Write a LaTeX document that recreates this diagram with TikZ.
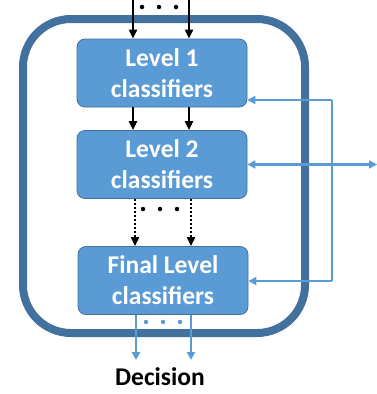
\documentclass[tikz,border=0pt]{standalone}
\usepackage{fontspec}
\setmainfont{Carlito}
\usetikzlibrary{arrows.meta}
\definecolor{boxblue}{HTML}{5B9BD5}
\definecolor{edgeblue}{HTML}{41719C}
\tikzset{
  classbox/.style={draw=edgeblue, fill=boxblue, rounded corners=8pt, line width=0.8pt,
    minimum width=170pt, minimum height=68pt, text=white, align=center,
    font=\fontsize{25.5}{31}\selectfont\bfseries},
  blackarrow/.style={line width=2pt, -{Triangle[length=9pt,width=8pt]}},
  bluearrow/.style={draw=boxblue, line width=2.2pt, -{Triangle[length=8pt,width=8pt]}},
  blueline/.style={draw=boxblue, line width=2.2pt},
  dot/.style={circle, fill, inner sep=0pt, minimum size=4.5pt}
}
\begin{document}
\begin{tikzpicture}[x=1pt, y=-1pt]
    \useasboundingbox (0,0) rectangle (377,394);

    % Outer frame
    % ---------------------
    \draw[edgeblue, line width=8pt, rounded corners=48pt] (23,19) rectangle (305,333);

    % Classifier levels
    % ---------------------
    \node[classbox] (lvl1) at (162,73) {Level 1\\classifiers};
    \node[classbox] (lvl2) at (162,164.5) {Level 2\\classifiers};
    \node[classbox] (lvlf) at (163,280.5) {Final Level\\classifiers};
    \node[font=\fontsize{25.5}{31}\selectfont\bfseries] (dec) at (160,377) {Decision};

    % Inputs
    % ---------------------
    \coordinate (inA) at (133,0);
    \coordinate (inB) at (189,0);
    \draw[blackarrow] (inA) -- (inA |- lvl1.north);
    \draw[blackarrow] (inB) -- (inB |- lvl1.north);
    \node[dot] (ta) at (142,7) {};
    \node[dot] (tb) at (159,7) {};
    \node[dot] (tc) at (176,7) {};

    % Level 1 to level 2
    \draw[blackarrow] (lvl1.south -| inA) -- (lvl2.north -| inA);
    \draw[blackarrow] (lvl1.south -| inB) -- (lvl2.north -| inB);

    % Level 2 to final level
    \coordinate (midA) at (135,0);
    \coordinate (midB) at (191,0);
    \draw[blackarrow, dotted] (lvl2.south -| midA) -- (lvlf.north -| midA);
    \draw[blackarrow, dotted] (lvl2.south -| midB) -- (lvlf.north -| midB);
    \node[dot] (ma) at (143,209) {};
    \node[dot] (mb) at (160,209) {};
    \node[dot] (mc) at (177,209) {};

    % Outputs
    % ---------------------
    \coordinate (outA) at (136,360);
    \coordinate (outB) at (191,360);
    \draw[bluearrow] (lvlf.south -| outA) -- (outA);
    \draw[bluearrow] (lvlf.south -| outB) -- (outB);
    \node[dot, boxblue] (ba) at (146,322) {};
    \node[dot, boxblue] (bb) at (163,322) {};
    \node[dot, boxblue] (bc) at (180,322) {};

    % Feedback
    % ---------------------
    \coordinate (fbtop) at (332,100);
    \coordinate (fbbot) at (332,281);
    \coordinate (fbout) at (377,0);
    \draw[blueline] (fbtop) -- (fbbot);
    \draw[bluearrow] (fbtop) -- (fbtop -| lvl1.east);
    \draw[bluearrow] (fbbot) -- (fbbot -| lvlf.east);
    \draw[bluearrow, {Triangle[length=8pt,width=8pt]}-{Triangle[length=8pt,width=8pt]}] (lvl2.east) -- (lvl2.east -| fbout);
\end{tikzpicture}
\end{document}
